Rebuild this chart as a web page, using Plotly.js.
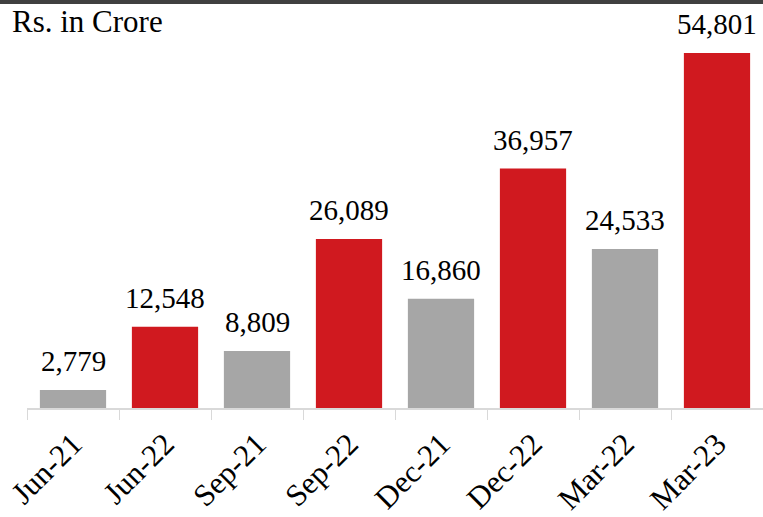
<!DOCTYPE html>
<html><head><meta charset="utf-8">
<script src="https://cdn.plot.ly/plotly-3.0.1.min.js"></script>
<style>html,body{margin:0;padding:0;background:#fff;}#bar{height:4px;background:#404040;width:763px;}#chart{width:763px;height:513px;}</style>
</head><body><div id="bar"></div><div id="chart"></div>
<script>
const categories = ["Jun-21","Jun-22","Sep-21","Sep-22","Dec-21","Dec-22","Mar-22","Mar-23"];
const values = [2779,12548,8809,26089,16860,36957,24533,54801];
const colors = ["#a6a6a6","#d0191f","#a6a6a6","#d0191f","#a6a6a6","#d0191f","#a6a6a6","#d0191f"];
const fontFam = 'Liberation Serif, serif';
const trace = {type:'bar', x:categories, y:values, marker:{color:colors}, hoverinfo:'none'};
const annotations = categories.map((c,i)=>({x:c, y:values[i], xref:'x', yref:'y', text:values[i].toLocaleString('en-US'),
  showarrow:false, yanchor:'bottom', yshift:11, font:{family:fontFam, size:29, color:'#000'}}));
annotations.push({xref:'paper', yref:'paper', x:-0.02, y:1, xanchor:'left', yanchor:'top', xshift:-2, yshift:2, text:'Rs. in Crore', showarrow:false, font:{family:fontFam, size:31, color:'#000'}});
const layout = {
  width:763, height:513, margin:{l:27,r:0,t:0,b:109}, paper_bgcolor:'#fff', plot_bgcolor:'#fff',
  font:{family:fontFam},
  bargap:0.28, showlegend:false,
  xaxis:{type:'category', showline:true, linecolor:'#d9d9d9', linewidth:1.5, ticks:'outside', tickson:'boundaries', ticklen:10, tickcolor:'#d9d9d9', tickangle:-45, ticklabelstandoff:4, tickfont:{family:fontFam, size:31, color:'#000'}, showgrid:false},
  yaxis:{range:[0,62365], visible:false, showgrid:false, zeroline:false},
  annotations:annotations
};
Plotly.newPlot('chart',[trace],layout,{displayModeBar:false, staticPlot:true});
</script></body></html>
